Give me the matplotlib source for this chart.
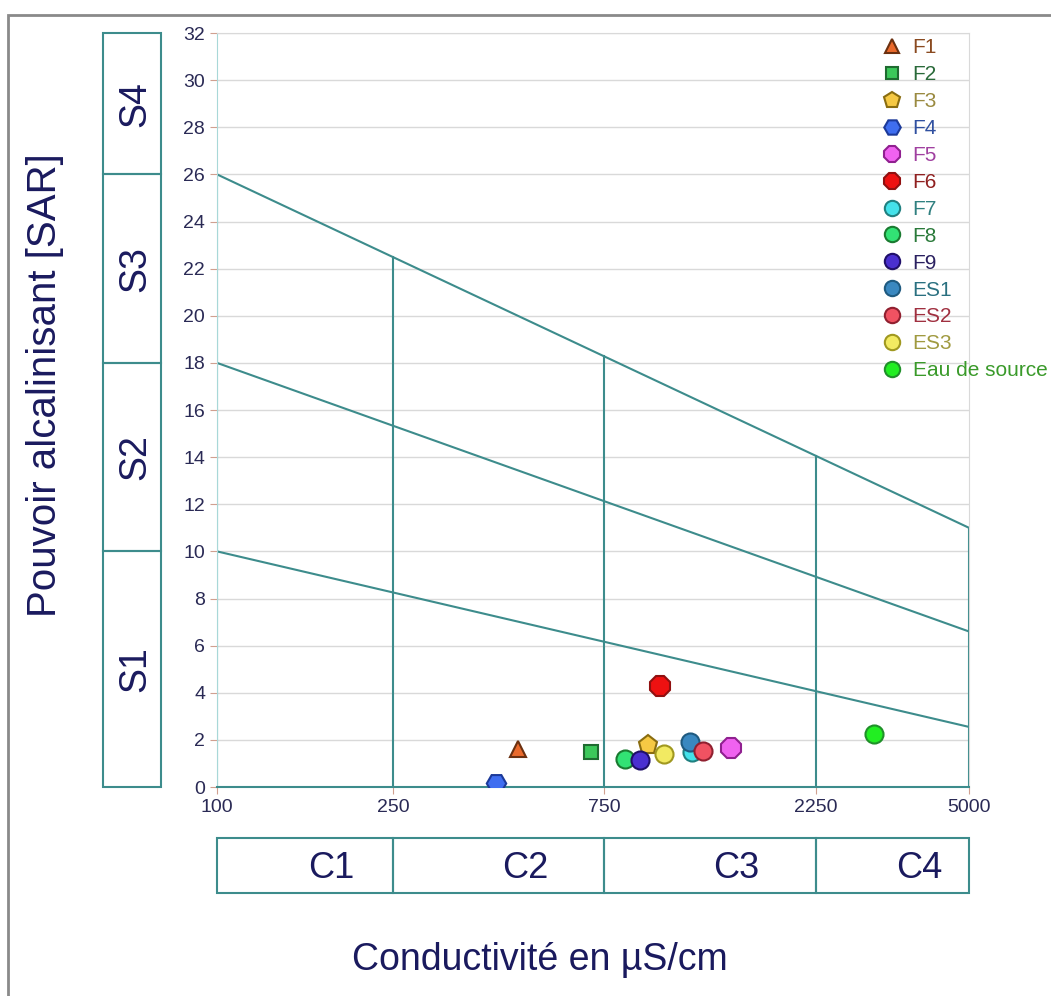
import matplotlib
matplotlib.use("Agg")
import matplotlib.pyplot as plt
import numpy as np
from matplotlib.patches import Rectangle

plt.rcParams['font.family'] = ['Liberation Sans', 'DejaVu Sans']

# Données (lecture du diagramme de Riverside)
names = ['F1', 'F2', 'F3', 'F4', 'F5', 'F6', 'F7', 'F8', 'F9', 'ES1', 'ES2', 'ES3', 'Eau de source']
ce = [479, 700, 940, 426, 1450, 1000, 1181, 835, 903, 1171, 1251, 1023, 3050]
sar = [1.6, 1.5, 1.78, 0.18, 1.64, 4.3, 1.5, 1.2, 1.15, 1.92, 1.54, 1.39, 2.25]
markers = ['^', 's', 'p', 'H', '8', '8', 'o', 'o', 'o', 'o', 'o', 'o', 'o']
msizes = [12, 10, 14, 14, 15, 15, 13, 13, 13, 13, 13, 13, 13]
faces = ['#ea6a2c', '#3cc85a', '#f6c944', '#3f6ef0', '#f062f0', '#ee1111', '#44e2ea',
         '#32e274', '#4a30d0', '#3a88c0', '#f05262', '#f2ea62', '#22ee22']
edges = ['#6b3010', '#1f6b30', '#8a6d10', '#1c3a9a', '#902090', '#901010', '#208080',
         '#1a7a30', '#20106a', '#1f5a80', '#902030', '#a09820', '#20902a']
text_cols = ['#8a4a20', '#2a6a3a', '#9a8a40', '#3050a0', '#a040a0', '#902020', '#308080',
             '#2a7a3a', '#2a2060', '#2a7080', '#a03040', '#a09a40', '#3a9a2a']

# limites des classes
c_bounds = [100, 250, 750, 2250, 5000]
c_labels = ['C1', 'C2', 'C3', 'C4']
s_left = [10, 18, 26]      # SAR des droites a 100 µS/cm
s_right = [2.55, 6.6, 11]  # SAR des droites a 5000 µS/cm
s_labels = ['S1', 'S2', 'S3', 'S4']

teal = '#3d8c8c'
navy = '#1a1a5e'

fig = plt.figure(figsize=(10.51, 9.96), dpi=100)
fig.patches.append(Rectangle((8 / 1051, -0.1), 1.2, 1 - 15 / 996 + 0.1, transform=fig.transFigure,
                             fill=False, edgecolor='#8a8a8a', lw=2))

ax = fig.add_axes([217 / 1051, 1 - 787 / 996, 752 / 1051, 754 / 996])
ax.set_xscale('log')
ax.set_xlim(100, 5000)
ax.set_ylim(0, 32)
ax.set_yticks(np.arange(0, 33, 2))
ax.set_xticks(c_bounds)
ax.set_xticklabels([str(v) for v in c_bounds])
ax.xaxis.set_minor_locator(matplotlib.ticker.NullLocator())
ax.tick_params(length=5, color='#d0a090', labelsize=14, labelcolor='#2a2a55')
ax.grid(axis='y', color='#d9d9d9', lw=1)
ax.set_axisbelow(True)
ax.spines['left'].set_color('#a8d8d8')
ax.spines['bottom'].set_color(teal)
ax.spines['bottom'].set_linewidth(1.5)
ax.spines['top'].set_color('#d9d9d9')
ax.spines['right'].set_color('#d9d9d9')

# droites de separation SAR
lx = np.log10(c_bounds[0])
rx = np.log10(c_bounds[-1])
for l, r in zip(s_left, s_right):
    ax.plot([c_bounds[0], c_bounds[-1]], [l, r], color=teal, lw=1.5, zorder=2)
top_l, top_r = s_left[-1], s_right[-1]
for c in c_bounds:
    ytop = top_l + (top_r - top_l) * (np.log10(c) - lx) / (rx - lx)
    ax.plot([c, c], [0, ytop], color=teal, lw=1.5, zorder=2)

for i in range(len(names)):
    ax.plot(ce[i], sar[i], linestyle='none', marker=markers[i], markersize=msizes[i],
            markerfacecolor=faces[i], markeredgecolor=edges[i], markeredgewidth=1.5,
            label=names[i], zorder=3 + i)

leg = fig.legend(loc='upper left', bbox_to_anchor=(873 / 1051, 1 - 30 / 996), frameon=False,
                 fontsize=15, labelcolor=text_cols, markerscale=0.85, handlelength=1.0,
                 handletextpad=0.5, labelspacing=0.38, borderaxespad=0)

# barre S a gauche
axs = fig.add_axes([103 / 1051, 1 - 787 / 996, 58 / 1051, 754 / 996])
axs.set_ylim(0, 32)
axs.set_xlim(0, 1)
axs.axis('off')
s_edges = [0, 10, 18, 26, 32]
for i in range(4):
    axs.add_patch(Rectangle((0, s_edges[i]), 1, s_edges[i + 1] - s_edges[i], fill=False,
                            edgecolor=teal, lw=1.5, clip_on=False))
    axs.text(0.55, (s_edges[i] + s_edges[i + 1]) / 2, s_labels[i], rotation=90,
             ha='center', va='center', fontsize=27, color=navy)

# barre C en bas
axc = fig.add_axes([217 / 1051, 1 - 893 / 996, 752 / 1051, 55 / 996])
axc.set_xscale('log')
axc.set_xlim(100, 5000)
axc.set_ylim(0, 1)
axc.axis('off')
for i in range(4):
    a, b = c_bounds[i], c_bounds[i + 1]
    axc.add_patch(Rectangle((a, 0), b - a, 1, fill=False, edgecolor=teal, lw=1.5, clip_on=False))
    xm = 10 ** ((np.log10(a) + np.log10(b)) / 2 + 0.06)
    axc.text(xm, 0.45, c_labels[i], ha='center', va='center', fontsize=26, color=navy)

fig.text(540 / 1051, 1 - 960 / 996, 'Conductivité en µS/cm', ha='center', va='center',
         fontsize=27, color=navy)
fig.text(45 / 1051, 1 - 385 / 996, 'Pouvoir alcalinisant [SAR]', rotation=90, ha='center',
         va='center', fontsize=29, color=navy)

fig.savefig('out.png', dpi=100)
